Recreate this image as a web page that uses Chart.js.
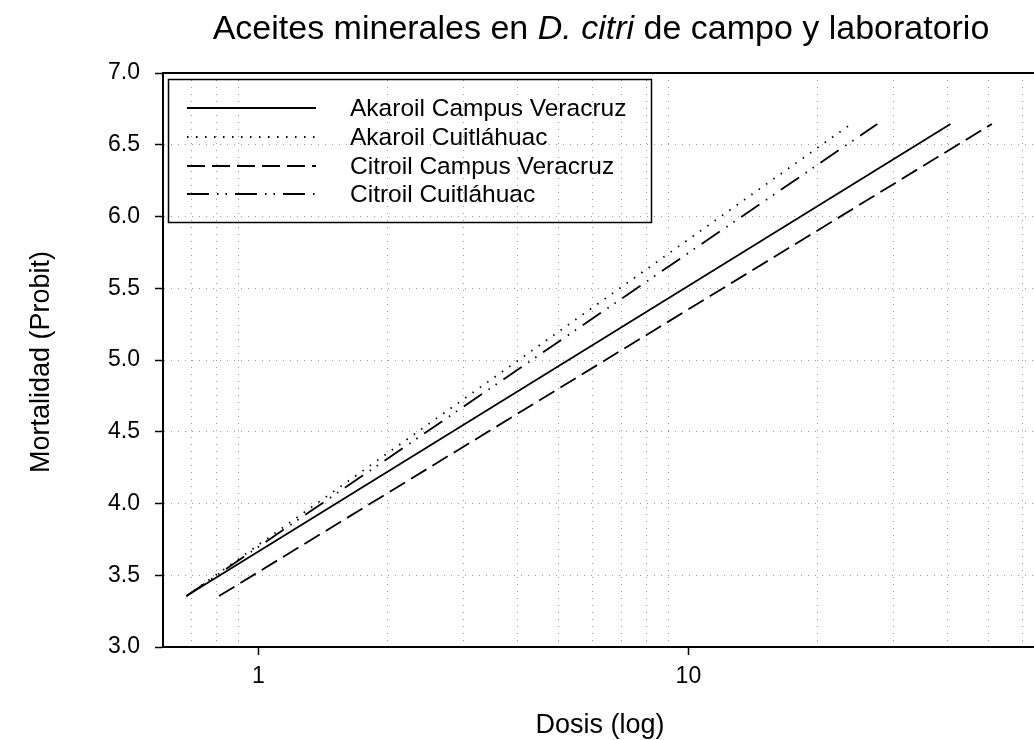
<!DOCTYPE html>
<html>
<head>
<meta charset="utf-8">
<script src="https://cdn.jsdelivr.net/npm/chart.js@4.4.1/dist/chart.umd.min.js"></script>
<style>
  body { margin: 0; background: #fff; }
</style>
</head>
<body>
<canvas id="chart" width="1034" height="740"></canvas>
<script>
// probit lines run from LC5 to LC95 (probit 3.355 .. 6.645)
const probitLevels = [3.355, 6.645];
const akaroilCampusDose = [0.68, 40.7];
const akaroilCuitlahuacDose = [0.68, 23.9];
const citroilCampusDose = [0.81, 50.8];
const citroilCuitlahuacDose = [0.68, 27.5];

const seriesLabels = ['Akaroil Campus Veracruz', 'Akaroil Cuitláhuac', 'Citroil Campus Veracruz', 'Citroil Cuitláhuac'];
const xGridValues = [0.6, 0.7, 0.8, 0.9, 1, 2, 3, 4, 5, 6, 7, 8, 9, 10, 20, 30, 40, 50, 60];
const xLabelValues = [1, 10];
const yTickValues = [3.0, 3.5, 4.0, 4.5, 5.0, 5.5, 6.0, 6.5, 7.0];

const FONT = '"Liberation Sans", Arial, Helvetica, sans-serif';
Chart.defaults.font.family = FONT;
Chart.defaults.color = '#000';

function toPoints(doses) {
  return doses.map((d, i) => ({ x: d, y: probitLevels[i] }));
}

function lineSet(label, doses, dash) {
  return {
    label: label,
    data: toPoints(doses),
    showLine: true,
    borderColor: '#000',
    borderWidth: 1.8,
    borderDash: dash,
    pointRadius: 0,
    fill: false
  };
}

const decorations = {
  id: 'decorations',
  afterDraw(chart) {
    const ctx = chart.ctx;
    const area = chart.chartArea;
    ctx.save();

    // top frame line
    ctx.strokeStyle = '#000';
    ctx.lineWidth = 2;
    ctx.beginPath();
    ctx.moveTo(area.left - 1, area.top);
    ctx.lineTo(area.right, area.top);
    ctx.stroke();

    // title with italic species name
    const parts = [
      { t: 'Aceites minerales en ', f: '34px ' + FONT },
      { t: 'D. citri', f: 'italic 34px ' + FONT },
      { t: ' de campo y laboratorio', f: '34px ' + FONT }
    ];
    let total = 0;
    parts.forEach(p => { ctx.font = p.f; p.w = ctx.measureText(p.t).width; total += p.w; });
    let x = 601 - total / 2;
    ctx.fillStyle = '#000';
    ctx.textBaseline = 'alphabetic';
    ctx.textAlign = 'left';
    parts.forEach(p => { ctx.font = p.f; ctx.fillText(p.t, x, 39); x += p.w; });

    // axis titles
    ctx.textAlign = 'center';
    ctx.font = '27px ' + FONT;
    ctx.fillText('Dosis (log)', 600, 733);
    ctx.save();
    ctx.translate(42, 362);
    ctx.rotate(-Math.PI / 2);
    ctx.textBaseline = 'middle';
    ctx.font = '27px ' + FONT;
    ctx.fillText('Mortalidad (Probit)', 0, 0);
    ctx.restore();

    // legend box
    ctx.lineWidth = 1.5;
    ctx.strokeStyle = '#000';
    ctx.strokeRect(168.5, 79.5, 483, 143);
    const rows = [108, 137, 166, 194];
    ctx.font = '24.5px ' + FONT;
    ctx.textAlign = 'left';
    ctx.textBaseline = 'middle';
    chart.data.datasets.forEach((ds, i) => {
      ctx.save();
      ctx.lineWidth = ds.borderWidth;
      ctx.setLineDash(ds.borderDash || []);
      ctx.beginPath();
      ctx.moveTo(187, rows[i]);
      ctx.lineTo(316, rows[i]);
      ctx.stroke();
      ctx.restore();
      ctx.fillText(ds.label, 350, rows[i] + 1);
    });
    ctx.restore();
  }
};

new Chart(document.getElementById('chart').getContext('2d'), {
  type: 'scatter',
  data: {
    datasets: [
      lineSet(seriesLabels[0], akaroilCampusDose, []),
      lineSet(seriesLabels[1], akaroilCuitlahuacDose, [1.5, 7.5]),
      lineSet(seriesLabels[2], citroilCampusDose, [18, 7]),
      lineSet(seriesLabels[3], citroilCuitlahuacDose, [22, 8, 1.5, 7, 1.5, 8])
    ]
  },
  options: {
    responsive: false,
    animation: false,
    layout: { padding: { top: 73, left: 0, right: 0, bottom: 0 } },
    plugins: {
      legend: { display: false },
      title: { display: false },
      tooltip: { enabled: false }
    },
    scales: {
      x: {
        type: 'logarithmic',
        min: 0.6,
        max: 63.65,
        afterBuildTicks: scale => { scale.ticks = xGridValues.map(v => ({ value: v })); },
        afterFit: scale => { scale.height = 93; },
        ticks: {
          autoSkip: false,
          maxRotation: 0,
          padding: 8,
          font: { size: 23 },
          callback: v => xLabelValues.includes(v) ? String(v) : ''
        },
        grid: {
          lineWidth: 1,
          tickLength: 8,
          tickWidth: 1.5,
          color: c => (c.tick && xLabelValues.includes(c.tick.value)) ? 'rgba(0,0,0,0)' : '#9a9a9a',
          tickColor: c => (c.tick && xLabelValues.includes(c.tick.value)) ? '#000' : 'rgba(0,0,0,0)'
        },
        border: { display: true, color: '#000', width: 2, dash: [1, 6] }
      },
      y: {
        type: 'linear',
        min: 3,
        max: 7,
        afterBuildTicks: scale => { scale.ticks = yTickValues.map(v => ({ value: v })); },
        afterFit: scale => { scale.width = 163; },
        ticks: {
          padding: 15,
          font: { size: 23 },
          callback: v => Number(v).toFixed(1)
        },
        grid: {
          lineWidth: 1,
          tickLength: 8,
          tickWidth: 1.5,
          color: c => (c.tick && (c.tick.value === 3 || c.tick.value === 7)) ? 'rgba(0,0,0,0)' : '#9a9a9a',
          tickColor: '#000'
        },
        border: { display: true, color: '#000', width: 2, dash: [1, 6] }
      }
    }
  },
  plugins: [decorations]
});
</script>
</body>
</html>
